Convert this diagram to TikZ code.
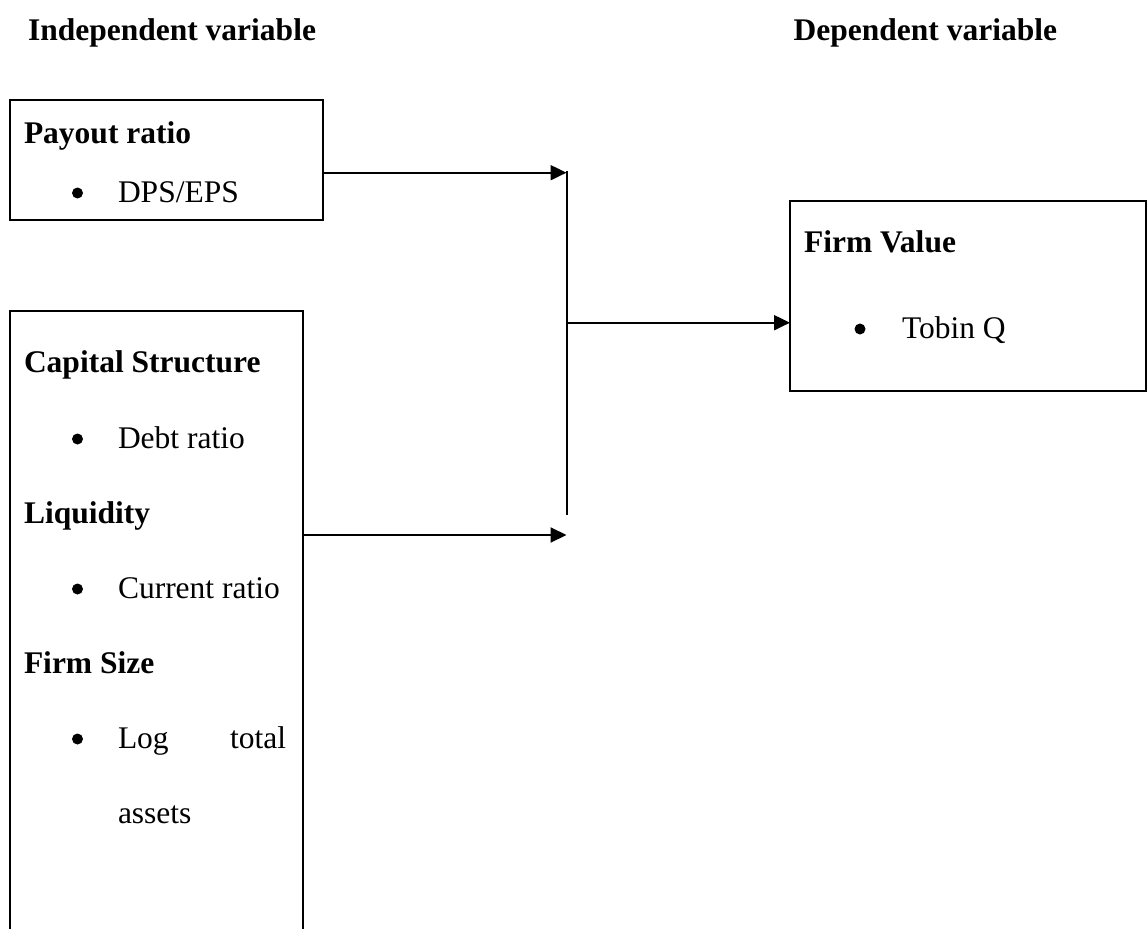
\documentclass[tikz,border=0pt]{standalone}
\usepackage{fontspec}
\setmainfont{Liberation Serif}
\usetikzlibrary{arrows.meta}
\begin{document}
\begin{tikzpicture}[x=1pt,y=-1pt,line width=2pt,
  box/.style={draw,rectangle,inner sep=0pt,outer sep=0pt,anchor=north west},
  txt/.style={inner sep=0pt,outer sep=0pt,anchor=base west,font=\fontsize{31.5}{36}\selectfont},
  hd/.style={txt,font=\fontsize{31.5}{36}\selectfont\bfseries},
  bul/.style={fill,circle,inner sep=0pt,minimum size=11pt},
  arr/.style={-{Triangle[length=16pt,width=15pt]}}]
\useasboundingbox (0,0) rectangle (1147,928);
\clip (0,0) rectangle (1147,928);
% headings
\node[hd,anchor=base east] (indep) at (316,41) {Independent variable};
\node[hd,anchor=base east] (dep) at (1057,41) {Dependent variable};
% boxes
\node[box,minimum width=313pt,minimum height=120pt] (payout) at (10,100) {};
\node[box,minimum width=293pt,minimum height=640pt] (capital) at (10,311) {};
\node[box,minimum width=356pt,minimum height=190pt] (firm) at (790,201) {};
% box 1 text
\node[hd] (t1) at (24,144) {Payout ratio};
\node[bul] (b1) at (77.5,193) {};
\node[txt] (t2) at (118,202) {DPS/EPS};
% box 2 text
\node[hd] (t3) at (24,372) {Capital Structure};
\node[bul] (b2) at (77.5,439) {};
\node[txt] (t4) at (118,448) {Debt ratio};
\node[hd] (t5) at (24,523) {Liquidity};
\node[bul] (b3) at (77.5,589) {};
\node[txt] (t6) at (118,598) {Current ratio};
\node[hd] (t7) at (24,673) {Firm Size};
\node[bul] (b4) at (77.5,739) {};
\node[txt] (t8) at (118,748) {\makebox[168pt][s]{Log total}};
\node[txt] (t9) at (118,823) {assets};
% box 3 text
\node[hd] (t10) at (804,252) {Firm Value};
\node[bul] (b5) at (860,329) {};
\node[txt] (t11) at (902,338) {Tobin Q};
% connectors
\coordinate (jtop) at (566.5,171.5);
\coordinate (j1) at (566.5,172.7);
\coordinate (jmid) at (566.5,322.7);
\coordinate (jbot) at (566.5,515);
\coordinate (j3) at (566.5,535);
\draw (jtop) -- (jbot);
\draw[arr] (payout.east |- j1) -- (j1);
\draw[arr] (jmid) -- (firm.west |- jmid);
\draw[arr] (capital.east |- j3) -- (j3);
\end{tikzpicture}
\end{document}
